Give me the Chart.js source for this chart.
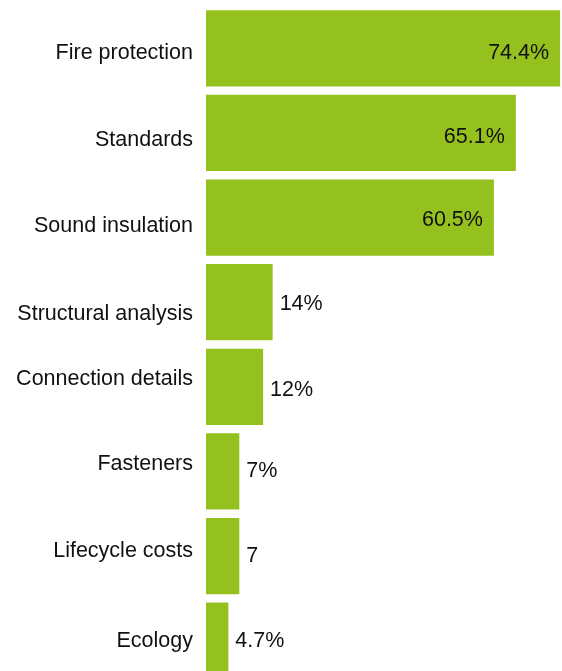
<!DOCTYPE html>
<html>
<head>
<meta charset="utf-8">
<script src="https://cdn.jsdelivr.net/npm/chart.js@4"></script>
<style>
  html, body { margin: 0; padding: 0; background: #fff; overflow: hidden; }
  #wrap { position: relative; width: 562px; height: 683px; }
</style>
</head>
<body>
<div id="wrap"><canvas id="chart"></canvas></div>
<script>
// data
const categories = ['Fire protection', 'Standards', 'Sound insulation', 'Structural analysis',
  'Connection details', 'Fasteners', 'Lifecycle costs', 'Ecology'];
const values = [74.4, 65.1, 60.5, 14, 12, 7, 7, 4.7];
const valueLabels = ['74.4%', '65.1%', '60.5%', '14%', '12%', '7%', '7', '4.7%'];

// small vertical nudges, the source labels are not exactly centred on the bars
const catNudge = [5, 7, 9, 12, -8, -7, -5, 0];
const valNudge = [5, 4, 3, 2, 3, 0, 0, 0];

const FONT = '21.5px "Liberation Sans", Arial, Helvetica, sans-serif';
const GREEN = '#95c11f';

const labelsPlugin = {
  id: 'labels',
  afterDatasetsDraw(chart) {
    const ctx = chart.ctx;
    const xs = chart.scales.x;
    const ys = chart.scales.y;
    const left = chart.chartArea.left;
    ctx.save();
    ctx.font = FONT;
    ctx.fillStyle = '#111';
    ctx.textBaseline = 'middle';
    categories.forEach((c, i) => {
      const y = ys.getPixelForValue(i);
      ctx.textAlign = 'right';
      ctx.fillText(c, left - 13, y + catNudge[i]);

      const end = xs.getPixelForValue(values[i]);
      if (values[i] > 30) {
        ctx.textAlign = 'right';
        ctx.fillText(valueLabels[i], end - 11, y + valNudge[i]);
      } else {
        ctx.textAlign = 'left';
        ctx.fillText(valueLabels[i], end + 7, y + valNudge[i]);
      }
    });
    ctx.restore();
  }
};

new Chart(document.getElementById('chart'), {
  type: 'bar',
  data: {
    labels: categories,
    datasets: [{
      data: values,
      backgroundColor: GREEN,
      borderWidth: 0,
      barPercentage: 0.9,
      categoryPercentage: 1
    }]
  },
  options: {
    indexAxis: 'y',
    responsive: true,
    maintainAspectRatio: false,
    animation: false,
    layout: { padding: { top: 6, left: 206, right: 0, bottom: 0 } },
    scales: {
      x: { display: false, min: 0, max: 74.8 },
      y: { display: false }
    },
    plugins: {
      legend: { display: false },
      tooltip: { enabled: false }
    }
  },
  plugins: [labelsPlugin]
});
</script>
</body>
</html>
